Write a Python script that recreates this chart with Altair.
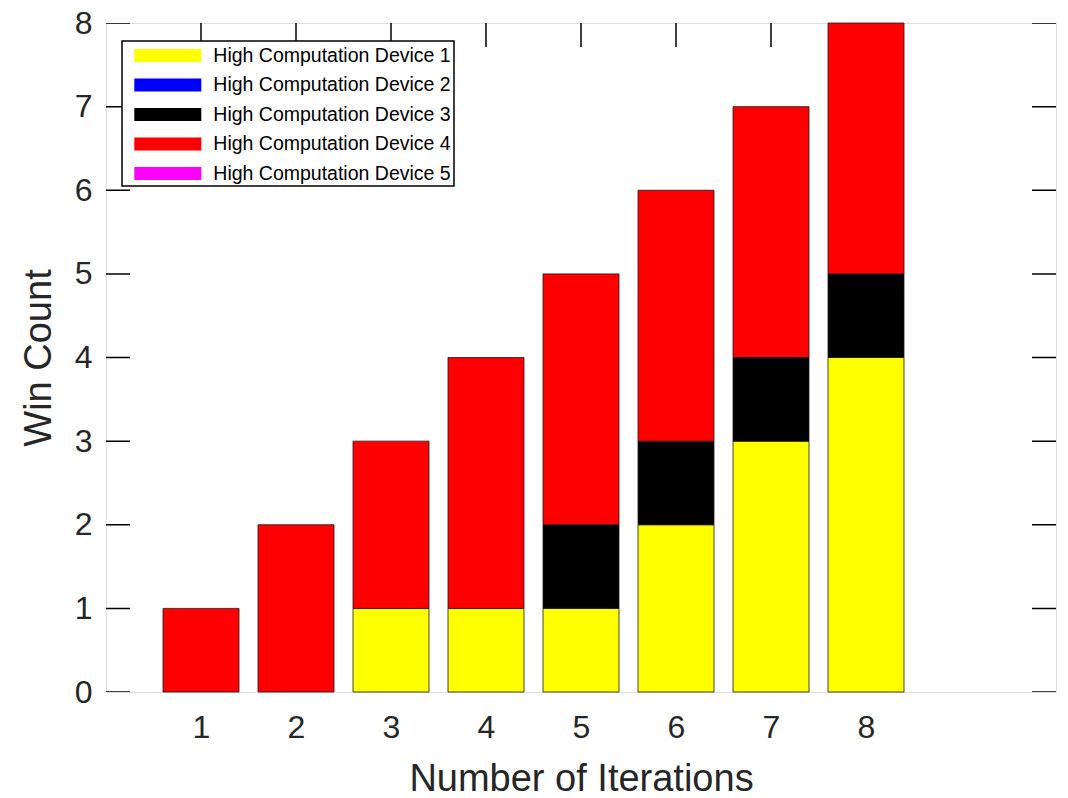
import altair as alt
import pandas as pd

iterations = [1, 2, 3, 4, 5, 6, 7, 8]
devices = ["High Computation Device 1", "High Computation Device 2", "High Computation Device 3",
           "High Computation Device 4", "High Computation Device 5"]
colors = ["#ffff00", "#0000ff", "#000000", "#ff0000", "#ff00ff"]
dev1 = [0, 0, 1, 1, 1, 2, 3, 4]
dev2 = [0, 0, 0, 0, 0, 0, 0, 0]
dev3 = [0, 0, 0, 0, 1, 1, 1, 1]
dev4 = [1, 2, 2, 3, 3, 3, 3, 3]
dev5 = [0, 0, 0, 0, 0, 0, 0, 0]
x_ticks = [1, 2, 3, 4, 5, 6, 7, 8]
y_ticks = [0, 1, 2, 3, 4, 5, 6, 7, 8]

series = [dev1, dev2, dev3, dev4, dev5]
rows = []
for i, it in enumerate(iterations):
    base = 0
    for d, s in zip(devices, series):
        v = s[i]
        if v > 0:
            rows.append({"iter": it, "device": d, "y0": base, "y1": base + v})
        base += v
df = pd.DataFrame(rows)

TXT = "#262626"
FONT = "Liberation Sans"
xscale = alt.Scale(domain=[0, 10], nice=False, zero=False)
yscale = alt.Scale(domain=[0, 8], nice=False)

bars = alt.Chart(df).transform_calculate(
    xl="datum.iter - 0.4", xr="datum.iter + 0.4"
).mark_rect(stroke="#1a1a1a", strokeWidth=0.8).encode(
    x=alt.X("xl:Q", scale=xscale,
            axis=alt.Axis(values=x_ticks, format="d", ticks=False, domain=False, grid=False,
                          labelFontSize=32, labelPadding=20, labelColor=TXT, labelFont=FONT,
                          title="Number of Iterations", titleFontSize=38, titleFont=FONT,
                          titleColor=TXT, titleFontWeight="normal", titlePadding=17)),
    x2="xr:Q",
    y=alt.Y("y0:Q", scale=yscale,
            axis=alt.Axis(values=y_ticks, format="d", ticks=False, domain=False, grid=False,
                          labelFontSize=32, labelPadding=14, labelColor=TXT, labelFont=FONT,
                          title="Win Count", titleFontSize=38, titleFont=FONT,
                          titleColor=TXT, titleFontWeight="normal", titlePadding=16)),
    y2="y1:Q",
    color=alt.Color("device:N", scale=alt.Scale(domain=devices, range=colors),
                    legend=alt.Legend(title=None, orient="none", legendX=16, legendY=18,
                                      symbolType="M-2.913,-0.565H2.913V0.565H-2.913Z",
                                      symbolSize=529, symbolOffset=31.3, symbolStrokeWidth=0,
                                      labelFontSize=19.5, labelFont=FONT, labelLimit=600,
                                      labelColor="#000000", labelOffset=34, rowPadding=8.5,
                                      padding=3, fillColor="white", strokeColor="black")),
)

ydf = pd.DataFrame({"v": y_ticks})
xdf = pd.DataFrame({"v": x_ticks})
yt_left = alt.Chart(ydf).transform_calculate(x0="0").mark_tick(
    orient="horizontal", size=48, thickness=1.5, color="black", clip=True, opacity=1
).encode(x=alt.X("x0:Q", scale=xscale), y=alt.Y("v:Q", scale=yscale))
yt_right = alt.Chart(ydf).transform_calculate(x0="10").mark_tick(
    orient="horizontal", size=48, thickness=1.5, color="black", clip=True, opacity=1
).encode(x=alt.X("x0:Q", scale=xscale), y=alt.Y("v:Q", scale=yscale))
xt_top = alt.Chart(xdf).transform_calculate(y0="8").mark_tick(
    orient="vertical", size=48, thickness=1.5, color="black", clip=True, opacity=1
).encode(x=alt.X("v:Q", scale=xscale), y=alt.Y("y0:Q", scale=yscale))
xt_bot = alt.Chart(xdf).transform_calculate(y0="0").mark_tick(
    orient="vertical", size=48, thickness=1.5, color="black", clip=True, opacity=1
).encode(x=alt.X("v:Q", scale=xscale), y=alt.Y("y0:Q", scale=yscale))

chart = alt.layer(yt_left, yt_right, xt_top, xt_bot, bars).properties(
    width=950, height=669,
    autosize=alt.AutoSizeParams(type="none"),
    padding={"left": 106, "top": 23, "right": 12, "bottom": 106},
).configure_view(stroke="#7f7f7f", strokeWidth=1.5).configure(background="white").configure_legend(strokeWidth=1.5)

chart.save("out.html", embed_options={"renderer": "svg", "actions": False})
